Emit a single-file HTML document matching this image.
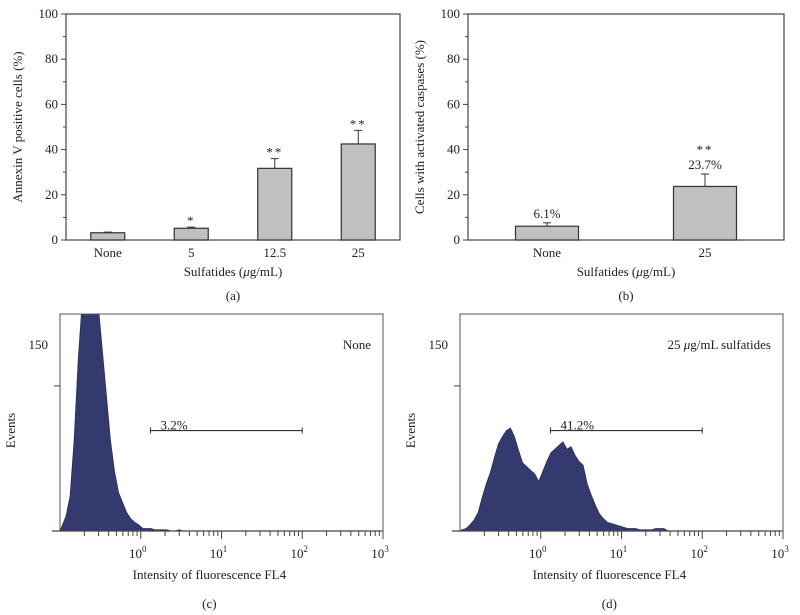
<!DOCTYPE html>
<html><head><meta charset="utf-8"><style>
html,body{margin:0;padding:0;background:#fff;}
svg{display:block;font-family:"Liberation Serif",serif;}
</style></head><body>
<svg id="fig" width="800" height="615" viewBox="0 0 800 615"></svg>
<script>
// ---- data ----
const catsA = ["None","5","12.5","25"];
const valsA = [3.2,5.2,31.7,42.5];
const errA = [0.3,0.5,4.3,6.0];
const starsA = ["","*","**","**"];
const catsB = ["None","25"];
const valsB = [6.1,23.7];
const errB = [1.5,5.5];
const labelsB = ["6.1%","23.7%"];
const starsB = ["","**"];
const yTicksBar = [0,20,40,60,80,100];
const histStartLog = -1;
const histBinLog = 0.05;
const histC = [4,12,28,73,137,185,210,218,202,181,145,109,73,48,31,23,15,10,7,5,2,2,2,1,1,1,1,0,0,1,0,0,0,0,0,0,0,0];
const histD = [1,2,5,9,15,27,38,47,59,70,76,81,83,76,65,55,52,49,46,40,48,56,63,66,69,72,66,68,61,56,53,38,29,21,14,10,7,6,5,4,3,2,2,2,1,1,1,1,2,2,2,0];
const logTicks = [0,1,2,3];
const gateLog = [0.12,2];
const gateC = "3.2%";
const gateD = "41.2%";
const gateLevel = 81;
const histYMax = 175;

const NS="http://www.w3.org/2000/svg";
const svg=document.getElementById('fig');
function el(tag,attrs,parent,text){const e=document.createElementNS(NS,tag);for(const k in attrs)e.setAttribute(k,attrs[k]);if(text!==undefined)e.textContent=text;(parent||svg).appendChild(e);return e;}

function barPanel(x0,x1,y0,y1,cats,vals,errs,stars,labels,ylab,tag,nm){
  const g=el('g',{});
  
  
  const ys=v=>y0-(v/100)*(y0-y1);
  const n=cats.length, band=(x1-x0)/n;
  const bw = n===4?34:63;
  const xs=i=>x0+band*(i+0.5);
  const frame=el('rect',{x:x0,y:y1,width:x1-x0,height:y0-y1,fill:'none',stroke:'#444','stroke-width':1.2},g);
  
  for(let v=0;v<=100;v+=10){
    const major=yTicksBar.includes(v);
    const t=el('line',{x1:x0-(major?5:3),x2:x0,y1:ys(v),y2:ys(v),stroke:'#444'},g);
    
  }
  yTicksBar.forEach(v=>{const t=el('text',{x:x0-8,y:ys(v)+4,'text-anchor':'end','font-size':13,fill:'#222'},g,String(v));
    });
  cats.forEach((c,i)=>{
    const cx=xs(i);
    const r=el('rect',{x:cx-bw/2,y:ys(vals[i]),width:bw,height:ys(0)-ys(vals[i]),fill:'#c0c0c0',stroke:'#333','stroke-width':1.2},g);
    
    const ey=ys(vals[i]+errs[i]);
    const e1=el('line',{x1:cx,x2:cx,y1:ys(vals[i]),y2:ey,stroke:'#333'},g);
    
    const e2=el('line',{x1:cx-4,x2:cx+4,y1:ey,y2:ey,stroke:'#333'},g);
    
    let top=ey-5;
    if(labels&&labels[i]){const l=el('text',{x:cx,y:top,'text-anchor':'middle','font-size':13,fill:'#222'},g,labels[i]);
      top-=18;}
    if(stars[i]){const s=el('text',{x:cx,y:top+3,'text-anchor':'middle','font-size':13,fill:'#222','letter-spacing':2},g,stars[i]);
      }
    const xl=el('text',{x:cx,y:y0+17,'text-anchor':'middle','font-size':13,fill:'#222'},g,c);
    
  });
  const xt=el('text',{x:(x0+x1)/2,y:y0+36,'text-anchor':'middle','font-size':13,fill:'#222'},g);
  
  xt.appendChild(document.createTextNode('Sulfatides ('));
  el('tspan',{'font-style':'italic'},xt,'μ');
  xt.appendChild(document.createTextNode('g/mL)'));
  const yt=el('text',{transform:`translate(${x0-44},${(y0+y1)/2}) rotate(-90)`,'text-anchor':'middle','font-size':13,fill:'#222'},g,ylab);
  
  const p=el('text',{x:(x0+x1)/2,y:300,'text-anchor':'middle','font-size':13,fill:'#222'},g,tag);
  
}

function histPanel(x0,x1,y0,y1,hist,gateTxt,note,tag,nm,cid){
  const g=el('g',{});
  
  
  const xs=l=>x0+(l-(-1))/4*(x1-x0);
  const ys=v=>y0-v/histYMax*(y0-y1);
  const cp=el('clipPath',{id:cid},g);el('rect',{x:x0,y:y1,width:x1-x0,height:y0-y1},cp);
  let d=`M${xs(histStartLog)},${y0}`;
  hist.forEach((v,i)=>{const a=xs(histStartLog+(i+0.5)*histBinLog);d+=`L${a},${ys(v)}`;});
  d+=`L${xs(histStartLog+hist.length*histBinLog)},${y0}Z`;
  const h=el('path',{d:d,fill:'#343a6e',stroke:'#2a2f5e','stroke-width':0.8,'clip-path':`url(#${cid})`},g);
  
  const fr=el('rect',{x:x0,y:y1,width:x1-x0,height:y0-y1,fill:'none',stroke:'#555','stroke-width':1},g);
  
  const ax=el('line',{x1:x0-8,x2:x1,y1:y0,y2:y0,stroke:'#444','stroke-width':1.2},g);
  
  for(let n=-1;n<3;n++)for(let k=2;k<=9;k++){
    const x=xs(n+Math.log10(k));
    const t=el('line',{x1:x,x2:x,y1:y0,y2:y0+5,stroke:'#444'},g);
    
  }
  logTicks.forEach(n=>{
    const x=xs(n);
    const t=el('line',{x1:x,x2:x,y1:y0,y2:y0+8,stroke:'#444'},g);
    
    const l=el('text',{x:x-3,y:y0+27,'text-anchor':'middle','font-size':13,fill:'#222'},g,'10');
    el('tspan',{'font-size':9,dy:-6},l,String(n));
    
  });
  const yl=el('text',{x:x0-12,y:ys(150)+4,'text-anchor':'end','font-size':13,fill:'#222'},g,'150');
  
  const yt=el('line',{x1:x0-6,x2:x0,y1:ys(117),y2:ys(117),stroke:'#444'},g);
  
  const gy=ys(gateLevel);
  const gl=el('line',{x1:xs(gateLog[0]),x2:xs(gateLog[1]),y1:gy,y2:gy,stroke:'#333','stroke-width':1.2},g);
  
  [gateLog[0],gateLog[1]].forEach(l=>{const e=el('line',{x1:xs(l),x2:xs(l),y1:gy-3,y2:gy+3,stroke:'#333'},g);
    });
  const gt=el('text',{x:xs(gateLog[0])+10,y:gy-1,'font-size':13,fill:'#222'},g,gateTxt);
  
  const nt=el('text',{x:x1-12,y:ys(150)+4,'text-anchor':'end','font-size':13,fill:'#222'},g);
  
  if(note==='None')nt.textContent='None';
  else{nt.appendChild(document.createTextNode('25 '));el('tspan',{'font-style':'italic'},nt,'μ');nt.appendChild(document.createTextNode('g/mL sulfatides'));}
  const ya=el('text',{transform:`translate(${x0-45},${(y0+y1)/2+8}) rotate(-90)`,'text-anchor':'middle','font-size':13,fill:'#222'},g,'Events');
  
  const xa=el('text',{x:xs(0.85),y:y0+48,'text-anchor':'middle','font-size':13,fill:'#222'},g,'Intensity of fluorescence FL4');
  
  const p=el('text',{x:xs(0.85),y:y0+77,'text-anchor':'middle','font-size':13,fill:'#222'},g,tag);
  
}

barPanel(66,400,240,14,catsA,valsA,errA,starsA,null,'Annexin V positive cells (%)','(a)','panel-a');
barPanel(468,784,240,14,catsB,valsB,errB,starsB,labelsB,'Cells with activated caspases (%)','(b)','panel-b');
histPanel(60,383,531,314,histC,gateC,'None','(c)','panel-c','clipc');
histPanel(460,783,531,314,histD,gateD,'25','(d)','panel-d','clipd');
</script>
</body></html>
